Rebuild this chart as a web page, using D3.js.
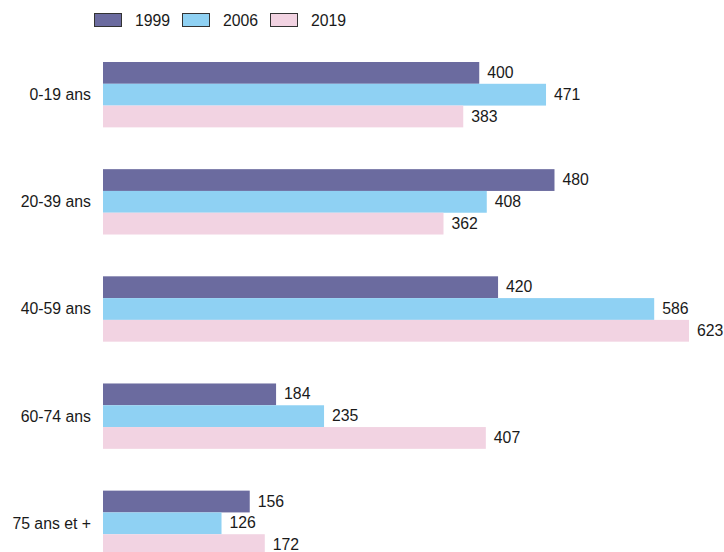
<!DOCTYPE html>
<html>
<head>
<meta charset="utf-8">
<script src="https://cdn.jsdelivr.net/npm/d3@7"></script>
<style>
  body { margin: 0; background: #fff; }
  text { font-family: "Liberation Sans", Arial, sans-serif; font-size: 15.8px; fill: #1a1a1a; }
</style>
</head>
<body>
<div id="chart"></div>
<script>
// données
const categories = ["0-19 ans", "20-39 ans", "40-59 ans", "60-74 ans", "75 ans et +"];
const series = ["1999", "2006", "2019"];
const v1999 = [400, 480, 420, 184, 156];
const v2006 = [471, 408, 586, 235, 126];
const v2019 = [383, 362, 623, 407, 172];
const colors = ["#6b6b9f", "#8fd1f3", "#f2d3e2"];

const width = 724, height = 552;
const values = [v1999, v2006, v2019];

const svg = d3.select("#chart")
    .append("svg")
    .attr("width", width)
    .attr("height", height);

// échelles
const x = d3.scaleLinear()
    .domain([0, 623])
    .range([103, 689]);

const y = d3.scaleBand()
    .domain(categories)
    .range([62, 556])
    .paddingInner(0.39)
    .paddingOuter(0);

const ySub = d3.scaleBand()
    .domain(series)
    .range([0, y.bandwidth()]);

// barres
const groups = svg.selectAll("g.group")
    .data(categories)
    .enter()
    .append("g")
    .attr("class", "group")
    .attr("transform", d => `translate(0,${y(d)})`);

groups.selectAll("rect")
    .data((c, i) => series.map((s, j) => ({ s: s, v: values[j][i], j: j })))
    .enter()
    .append("rect")
    .attr("x", x(0))
    .attr("y", d => ySub(d.s))
    .attr("width", d => x(d.v) - x(0))
    .attr("height", ySub.bandwidth())
    .style("fill", d => colors[d.j]);

groups.selectAll("text.val")
    .data((c, i) => series.map((s, j) => ({ s: s, v: values[j][i] })))
    .enter()
    .append("text")
    .attr("class", "val")
    .attr("x", d => x(d.v) + 8)
    .attr("y", d => ySub(d.s) + ySub.bandwidth() / 2)
    .attr("dy", "0.32em")
    .text(d => d.v);

// libellés des catégories
svg.selectAll("text.cat")
    .data(categories)
    .enter()
    .append("text")
    .attr("class", "cat")
    .attr("x", 91)
    .attr("y", d => y(d) + y.bandwidth() / 2)
    .attr("dy", "0.34em")
    .attr("text-anchor", "end")
    .text(d => d);

// légende
const legend = svg.selectAll("g.legend")
    .data(series)
    .enter()
    .append("g")
    .attr("class", "legend")
    .attr("transform", (d, i) => `translate(${94 + i * 88},13)`);

legend.append("rect")
    .attr("x", 0.5)
    .attr("y", 0.5)
    .attr("width", 27)
    .attr("height", 13)
    .style("fill", (d, i) => colors[i])
    .style("stroke", "#333")
    .style("stroke-width", 1);

legend.append("text")
    .attr("x", 41)
    .attr("y", 7)
    .attr("dy", "0.36em")
    .text(d => d);
</script>
</body>
</html>
